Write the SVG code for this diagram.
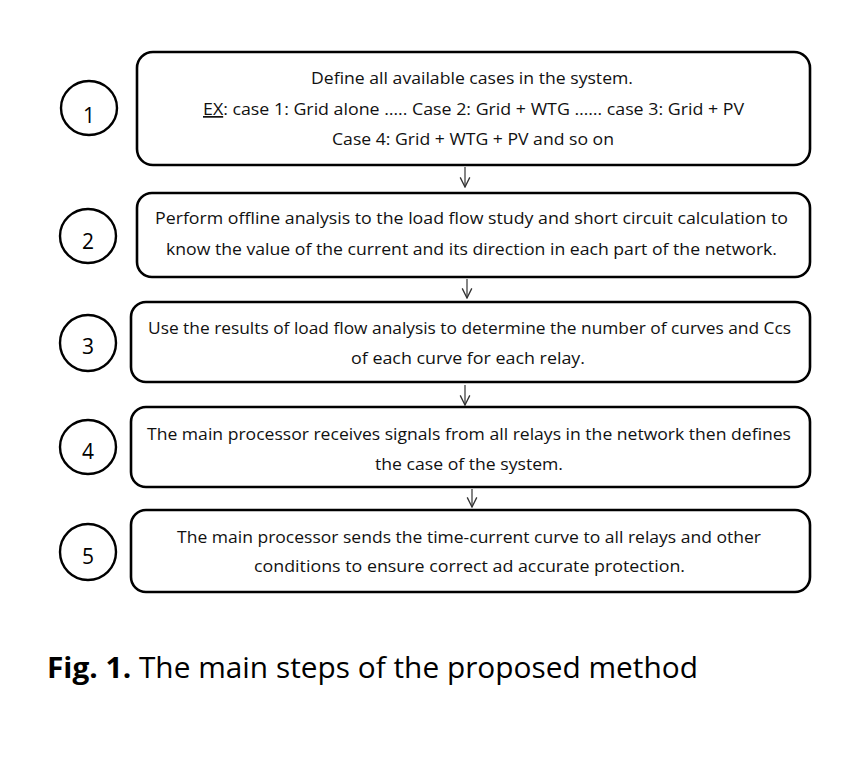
<svg xmlns="http://www.w3.org/2000/svg" width="856" height="776" viewBox="0 0 856 776">
<defs>
<style>
.box{fill:#fff;stroke:#000;stroke-width:2.6}
.circ{fill:#fff;stroke:#000;stroke-width:2.4}
.t{font-family:"Open Sans","Liberation Sans",sans-serif;font-size:17px;fill:#111}
.num{font-family:"Open Sans","Liberation Sans",sans-serif;font-size:21px;fill:#000;text-anchor:middle}
.conn{stroke:#333;stroke-width:1.2;fill:none}
.cap{font-family:"Open Sans","Liberation Sans",sans-serif;font-size:29px;fill:#000}
</style>
<marker id="ah" viewBox="0 0 10 10" refX="9" refY="5" markerWidth="12" markerHeight="12" markerUnits="userSpaceOnUse" orient="auto">
<path d="M1,1 L9,5 L1,9" fill="none" stroke="#333" stroke-width="1.1"/>
</marker>
</defs>
<rect width="856" height="776" fill="#fff"/>
<g id="connectors">
<line class="conn" x1="465" y1="167" x2="465" y2="187" marker-end="url(#ah)"/>
<line class="conn" x1="467" y1="279" x2="467" y2="298" marker-end="url(#ah)"/>
<line class="conn" x1="465" y1="385" x2="465" y2="405" marker-end="url(#ah)"/>
<line class="conn" x1="472" y1="489" x2="472" y2="507" marker-end="url(#ah)"/>
</g>
<g id="step1">
<ellipse class="circ" cx="89" cy="108" rx="28" ry="27"/>
<text class="num" x="89" y="123">1</text>
<rect class="box" x="137" y="52" width="673" height="113" rx="16"/>
<text class="t" x="311" y="84" textLength="322" lengthAdjust="spacingAndGlyphs">Define all available cases in the system.</text>
<text class="t" x="203" y="115" textLength="541" lengthAdjust="spacingAndGlyphs"><tspan text-decoration="underline">EX</tspan>: case 1: Grid alone ….. Case 2: Grid + WTG …… case 3: Grid + PV</text>
<text class="t" x="332" y="145" textLength="282" lengthAdjust="spacingAndGlyphs">Case 4: Grid + WTG + PV and so on</text>
</g>
<g id="step2">
<ellipse class="circ" cx="88" cy="236" rx="28" ry="27"/>
<text class="num" x="88" y="249">2</text>
<rect class="box" x="137" y="193" width="673" height="84" rx="15"/>
<text class="t" x="155" y="224" textLength="633" lengthAdjust="spacingAndGlyphs">Perform offline analysis to the load flow study and short circuit calculation to</text>
<text class="t" x="166" y="255" textLength="611" lengthAdjust="spacingAndGlyphs">know the value of the current and its direction in each part of the network.</text>
</g>
<g id="step3">
<ellipse class="circ" cx="88" cy="343" rx="28" ry="28"/>
<text class="num" x="88" y="354">3</text>
<rect class="box" x="131" y="302" width="679" height="80" rx="15"/>
<text class="t" x="148" y="334" textLength="643" lengthAdjust="spacingAndGlyphs">Use the results of load flow analysis to determine the number of curves and Ccs</text>
<text class="t" x="351" y="364" textLength="234" lengthAdjust="spacingAndGlyphs">of each curve for each relay.</text>
</g>
<g id="step4">
<ellipse class="circ" cx="88" cy="447" rx="28" ry="27"/>
<text class="num" x="88" y="459">4</text>
<rect class="box" x="131" y="407" width="679" height="80" rx="15"/>
<text class="t" x="147" y="440" textLength="644" lengthAdjust="spacingAndGlyphs">The main processor receives signals from all relays in the network then defines</text>
<text class="t" x="375" y="470" textLength="188" lengthAdjust="spacingAndGlyphs">the case of the system.</text>
</g>
<g id="step5">
<ellipse class="circ" cx="88" cy="552" rx="28" ry="28"/>
<text class="num" x="88" y="564">5</text>
<rect class="box" x="131" y="510" width="679" height="82" rx="15"/>
<text class="t" x="177" y="543" textLength="584" lengthAdjust="spacingAndGlyphs">The main processor sends the time-current curve to all relays and other</text>
<text class="t" x="254" y="572" textLength="431" lengthAdjust="spacingAndGlyphs">conditions to ensure correct ad accurate protection.</text>
</g>
<text class="cap" x="47" y="678" textLength="651" lengthAdjust="spacingAndGlyphs"><tspan font-weight="bold">Fig. 1.</tspan> The main steps of the proposed method</text>
</svg>
